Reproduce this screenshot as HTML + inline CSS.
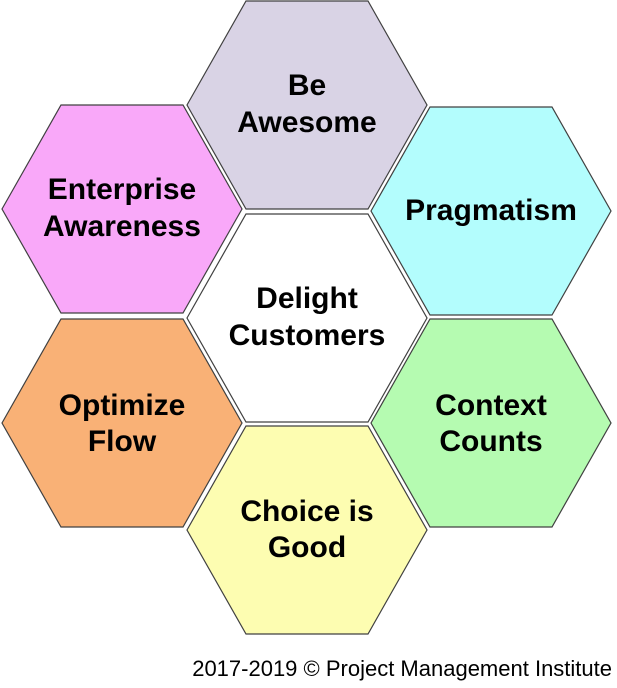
<!DOCTYPE html><html><head><style>body{margin:0;background:#fff}svg{display:block}text{font-family:"Liberation Sans",Arial,sans-serif;font-weight:bold;font-size:30px;text-anchor:middle;fill:#000}</style></head><body>
<svg width="617" height="688" viewBox="0 0 617 688">
<defs><polygon id="h" points="-120,0 -61,-104 61,-104 120,0 61,104 -61,104"/></defs>
<g stroke="#404040" stroke-width="1.2">
<use href="#h" x="307" y="105" fill="#d9d3e5"/>
<use href="#h" x="122" y="209" fill="#f9a8f9"/>
<use href="#h" x="491" y="211" fill="#b3fdfd"/>
<use href="#h" x="307" y="318" fill="#ffffff"/>
<use href="#h" x="122" y="423" fill="#f9b176"/>
<use href="#h" x="491" y="423" fill="#b5fbb1"/>
<use href="#h" x="307" y="530" fill="#fdfdb1"/>
</g>
<text x="307" y="95">Be</text><text x="307" y="132">Awesome</text>
<text x="122" y="199">Enterprise</text><text x="122" y="236">Awareness</text>
<text x="491" y="220">Pragmatism</text>
<text x="307" y="308">Delight</text><text x="307" y="345">Customers</text>
<text x="122" y="415">Optimize</text><text x="122" y="451">Flow</text>
<text x="491" y="415">Context</text><text x="491" y="451">Counts</text>
<text x="307" y="521">Choice is</text><text x="307" y="557">Good</text>
<text x="612" y="676" style="font-weight:normal;font-size:22px;text-anchor:end">2017-2019 © Project Management Institute</text>
</svg></body></html>
